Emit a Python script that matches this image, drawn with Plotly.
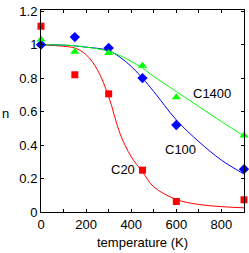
import plotly.graph_objects as go

# measured points
temp_pts = [0, 150, 300, 450, 600, 900]
c20_pts = [1.11, 0.82, 0.706, 0.25, 0.063, 0.073]
c100_pts = [1.0, 1.045, 0.98, 0.80, 0.52, 0.256]
c1400_pts = [1.03, 0.958, 0.95, 0.874, 0.685, 0.457]

# fitted curves
temp_fit = [0, 100, 150, 200, 250, 300, 350, 400, 450, 500, 600, 700, 800, 900]
c20_fit = [1.0, 0.99, 0.98, 0.94, 0.85, 0.69, 0.47, 0.33, 0.24, 0.15, 0.075, 0.045, 0.032, 0.025]
c100_fit = [1.0, 0.997, 0.993, 0.985, 0.978, 0.965, 0.925, 0.87, 0.80, 0.72, 0.55, 0.42, 0.31, 0.227]
c1400_fit = [1.0, 0.997, 0.993, 0.985, 0.975, 0.96, 0.935, 0.90, 0.86, 0.81, 0.72, 0.63, 0.54, 0.455]

x_ticks = [0, 100, 200, 300, 400, 500, 600, 700, 800]
x_labels = ["0", "", "200", "", "400", "", "600", "", "800"]
y_ticks = [0, 0.2, 0.4, 0.6, 0.8, 1.0, 1.2]
y_labels = ["0", "0.2", "0.4", "0.6", "0.8", "1", "1.2"]

RED, BLUE, GREEN = "#ff0000", "#0000ff", "#00ff00"
FONT = "Liberation Sans, Arial, sans-serif"

fig = go.Figure()
for y, c in [(c20_fit, RED), (c100_fit, BLUE), (c1400_fit, GREEN)]:
    fig.add_trace(go.Scatter(x=temp_fit, y=y, mode="lines", line=dict(color=c, width=1, shape="spline"),
                             showlegend=False, hoverinfo="skip"))
fig.add_trace(go.Scatter(x=temp_pts, y=c20_pts, mode="markers",
                         marker=dict(symbol="square", size=7, color=RED), showlegend=False, cliponaxis=False))
fig.add_trace(go.Scatter(x=temp_pts, y=c100_pts, mode="markers",
                         marker=dict(symbol="diamond", size=8, color=BLUE), showlegend=False, cliponaxis=False))
fig.add_trace(go.Scatter(x=temp_pts, y=c1400_pts, mode="markers",
                         marker=dict(symbol="triangle-up", size=8, color=GREEN), showlegend=False, cliponaxis=False))

axis_common = dict(showgrid=False, zeroline=False, showline=True, linecolor="black", linewidth=1,
                   ticks="inside", ticklen=3, tickcolor="black", mirror="ticks",
                   ticklabeloverflow="allow",
                   tickfont=dict(family=FONT, size=13, color="black"))
fig.update_xaxes(range=[0, 900], tickmode="array", tickvals=x_ticks, ticktext=x_labels, **axis_common)
fig.update_yaxes(range=[0, 1.207], tickmode="array", tickvals=y_ticks, ticktext=y_labels, **axis_common)

ann_font = dict(family=FONT, size=13, color="black")
fig.update_layout(
    width=249, height=253,
    margin=dict(l=41, r=4, t=6, b=41),
    plot_bgcolor="white", paper_bgcolor="white",
    annotations=[
        dict(text="C1400", x=756, y=0.71, xref="x", yref="y", showarrow=False, font=ann_font),
        dict(text="C100", x=618, y=0.373, xref="x", yref="y", showarrow=False, font=ann_font),
        dict(text="C20", x=362, y=0.256, xref="x", yref="y", showarrow=False, font=ann_font),
        dict(text="temperature (K)", x=0.5, y=-0.153, xref="paper", yref="paper", showarrow=False,
             yanchor="middle", font=ann_font),
        dict(text="n", x=-0.176, y=0.486, xref="paper", yref="paper", showarrow=False,
             xanchor="center", yanchor="middle", font=ann_font),
    ],
)
fig.write_html("out.html", config={"displayModeBar": False},
               post_script="document.body.style.margin='0px';document.body.style.padding='0px';")
